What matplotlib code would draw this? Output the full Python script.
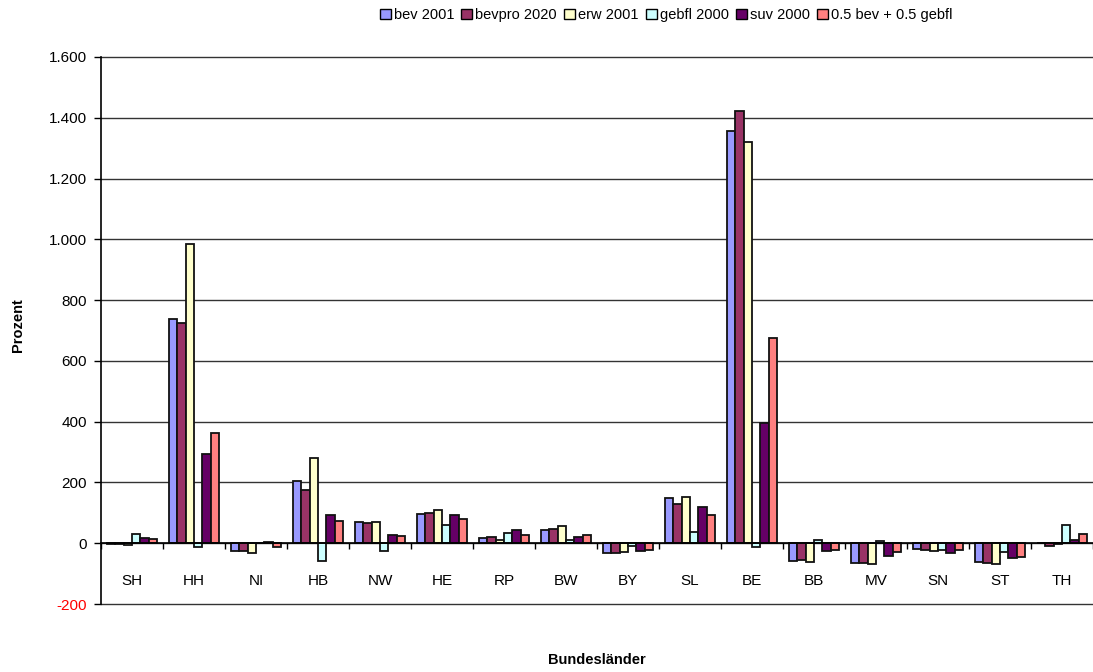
import numpy as np
import matplotlib
matplotlib.use("Agg")
import matplotlib.pyplot as plt
from matplotlib.ticker import FixedLocator, FuncFormatter
from matplotlib.patches import Patch

plt.rcParams['font.family'] = ['Liberation Sans', 'DejaVu Sans']

laender = ["SH", "HH", "NI", "HB", "NW", "HE", "RP", "BW", "BY", "SL",
           "BE", "BB", "MV", "SN", "ST", "TH"]

series_names = ["bev 2001", "bevpro 2020", "erw 2001", "gebfl 2000",
                "suv 2000", "0.5 bev + 0.5 gebfl"]

bev_2001 = [-2, 739, -25, 204, 70, 97, 17, 43, -33, 149, 1358, -58, -66, -20, -62, 2]
bevpro_2020 = [-2, 726, -26, 174, 66, 100, 22, 46, -32, 128, 1422, -54, -66, -21, -65, -9]
erw_2001 = [-5, 985, -31, 281, 69, 109, 9, 56, -28, 152, 1320, -63, -70, -25, -68, -2]
gebfl_2000 = [31, -14, 2, -57, -25, 60, 33, 11, -10, 36, -12, 11, 8, -22, -29, 59]
suv_2000 = [18, 295, 5, 94, 28, 92, 44, 20, -26, 119, 395, -26, -43, -31, -47, 11]
bev_gebfl_mix = [14, 362, -12, 74, 23, 79, 26, 27, -22, 92, 675, -23, -29, -22, -45, 30]

series = [bev_2001, bevpro_2020, erw_2001, gebfl_2000, suv_2000, bev_gebfl_mix]
colors = ["#9999FF", "#993366", "#FFFFCC", "#CCFFFF", "#660066", "#FF8080"]

fig = plt.figure(figsize=(10.93, 6.72), dpi=100)
ax = fig.add_axes([101 / 1093, 68 / 672, 992 / 1093, 547 / 672])

x = np.arange(len(laender))
n = len(series)
group_w = 0.8
bw = group_w / n
for i, (vals, col) in enumerate(zip(series, colors)):
    offs = -group_w / 2 + bw * (i + 0.5)
    ax.bar(x + offs, vals, width=bw, color=col, edgecolor="#111111",
           linewidth=1.3, zorder=3)

ax.set_xlim(-0.5, len(laender) - 0.5)
ax.set_ylim(-200, 1600)

# y axis: German thousands separator, negative values in red
yticks = np.arange(-200, 1601, 200)
ax.yaxis.set_major_locator(FixedLocator(yticks))
ax.yaxis.set_major_formatter(FuncFormatter(lambda v, p: f"{int(v):,}".replace(",", ".")))
ax.tick_params(axis="y", direction="out", length=5, width=1, pad=5,
               labelsize=11, colors="black")
for lbl, v in zip(ax.get_yticklabels(), yticks):
    if v < 0:
        lbl.set_color("red")
# horizontal grid lines, drawn unclipped so the outer ones keep full width
for v in yticks:
    ax.axhline(v, color="#333333", linewidth=1.0, zorder=0, clip_on=False)

# x axis sits on the zero line, ticks between categories
ax.spines["bottom"].set_position(("data", 0))
ax.spines["top"].set_visible(False)
ax.spines["right"].set_visible(False)
ax.spines["left"].set_linewidth(1.2)
ax.spines["bottom"].set_linewidth(1.2)
ax.spines["bottom"].set_zorder(4)
ax.set_xticks(x)
ax.set_xticklabels(laender)
ax.set_xticks(np.arange(-0.5, len(laender), 1.0), minor=True)
ax.tick_params(axis="x", which="major", length=0, pad=22, labelsize=11)
ax.tick_params(axis="x", which="minor", direction="out", length=4, width=1)

fig.text(18 / 1093, 1 - 325 / 672, "Prozent", fontsize=10.5, fontweight="bold",
         rotation=90, ha="center", va="center")
fig.text(597 / 1093, 1 - 660 / 672, "Bundesländer", fontsize=10.5,
         fontweight="bold", ha="center", va="center")

handles = [Patch(facecolor=c, edgecolor="black", linewidth=1.0) for c in colors]
fig.legend(handles, series_names, loc="center", bbox_to_anchor=(666 / 1093, 1 - 15 / 672),
           ncol=6, frameon=False, fontsize=10.5, handlelength=0.75, handleheight=0.75,
           handletextpad=0.2, columnspacing=0.5, borderpad=0)

fig.savefig("out.png", dpi=100)
